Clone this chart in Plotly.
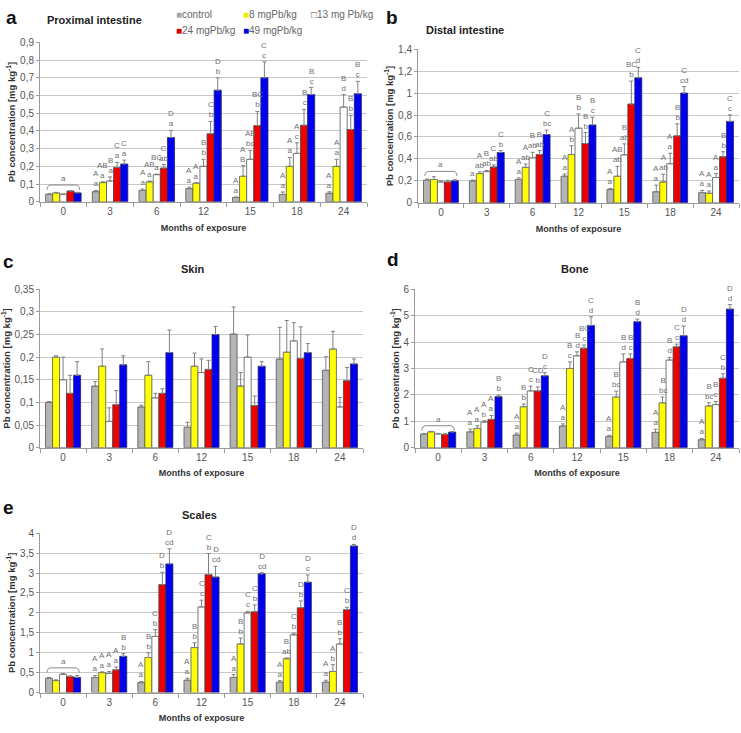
import plotly.graph_objects as go

# ---------------- data ----------------
MONTHS = ["0", "3", "6", "12", "15", "18", "24"]
SERIES = ["control", "8 mgPb/kg", "13 mg Pb/kg", "24 mgPb/kg", "49 mgPb/kg"]

# (a) Proximal intestine
PROX_CONTROL = [0.042, 0.057, 0.064, 0.074, 0.024, 0.041, 0.048]
PROX_8 = [0.050, 0.108, 0.112, 0.105, 0.144, 0.200, 0.200]
PROX_13 = [0.042, 0.117, 0.153, 0.200, 0.240, 0.273, 0.535]
PROX_24 = [0.060, 0.194, 0.190, 0.384, 0.430, 0.432, 0.408]
PROX_49 = [0.050, 0.213, 0.363, 0.630, 0.700, 0.605, 0.610]
PROX_CONTROL_ERR = [0.003, 0.007, 0.008, 0.008, 0.003, 0.014, 0.008]
PROX_8_ERR = [0.003, 0.005, 0.005, 0.002, 0.060, 0.050, 0.040]
PROX_13_ERR = [0.002, 0.023, 0.003, 0.040, 0.050, 0.060, 0.070]
PROX_24_ERR = [0.003, 0.028, 0.020, 0.070, 0.080, 0.090, 0.080]
PROX_49_ERR = [0.003, 0.022, 0.040, 0.070, 0.090, 0.040, 0.070]
PROX_CONTROL_LET = ["", "A<br>a", "A<br>a", "A<br>a", "A<br>a", "A<br>a", "A<br>a"]
PROX_8_LET = ["", "AB<br>a", "AB<br>a", "A<br>a", "A<br>B", "A<br>a", "A<br>a"]
PROX_13_LET = ["", "B<br>a", "BC<br>a", "B<br>b", "AB<br>bc", "A<br>c", "B<br>d"]
PROX_24_LET = ["", "C<br>a", "C<br>ab", "C<br>b", "BC<br>b", "B<br>c", "B<br>b"]
PROX_49_LET = ["", "C<br>a", "D<br>a", "D<br>b", "C<br>c", "B<br>c", "B<br>c"]

# (b) Distal intestine
DIST_CONTROL = [0.206, 0.197, 0.212, 0.242, 0.120, 0.100, 0.092]
DIST_8 = [0.212, 0.266, 0.323, 0.440, 0.242, 0.190, 0.087]
DIST_13 = [0.190, 0.284, 0.410, 0.680, 0.437, 0.356, 0.230]
DIST_24 = [0.190, 0.326, 0.440, 0.540, 0.900, 0.610, 0.420]
DIST_49 = [0.200, 0.458, 0.622, 0.710, 1.140, 1.000, 0.742]
DIST_CONTROL_ERR = [0.010, 0.010, 0.015, 0.020, 0.010, 0.060, 0.020]
DIST_8_ERR = [0.025, 0.015, 0.030, 0.080, 0.090, 0.070, 0.020]
DIST_13_ERR = [0.010, 0.010, 0.050, 0.130, 0.100, 0.095, 0.035]
DIST_24_ERR = [0.015, 0.018, 0.035, 0.100, 0.210, 0.110, 0.045]
DIST_49_ERR = [0.010, 0.018, 0.040, 0.070, 0.095, 0.060, 0.060]
DIST_CONTROL_LET = ["", "a", "A<br>a", "A<br>a", "A<br>a", "A<br>a", "A<br>a"]
DIST_8_LET = ["", "A<br>ab", "A<br>ab", "A<br>b", "AB<br>ab", "A<br>ab", "A<br>a"]
DIST_13_LET = ["", "B<br>ab", "B<br>ab", "B<br>b", "B<br>ab", "A<br>a", "A<br>a"]
DIST_24_LET = ["", "C<br>ab", "B<br>ab", "B<br>b", "BC<br>b", "B<br>b", "B<br>b"]
DIST_49_LET = ["", "C<br>b", "C<br>bc", "B<br>c", "C<br>d", "C<br>cd", "C<br>c"]

# (c) Skin
SKIN_CONTROL = [0.100, 0.136, 0.090, 0.045, 0.251, 0.196, 0.171]
SKIN_8 = [0.200, 0.180, 0.160, 0.180, 0.136, 0.211, 0.218]
SKIN_13 = [0.150, 0.058, 0.110, 0.166, 0.200, 0.236, 0.090]
SKIN_24 = [0.120, 0.095, 0.120, 0.173, 0.093, 0.197, 0.148]
SKIN_49 = [0.160, 0.183, 0.210, 0.250, 0.180, 0.210, 0.185]
SKIN_CONTROL_ERR = [0.002, 0.010, 0.004, 0.011, 0.060, 0.070, 0.030]
SKIN_8_ERR = [0.003, 0.038, 0.030, 0.029, 0.030, 0.070, 0.039]
SKIN_13_ERR = [0.050, 0.030, 0.010, 0.030, 0.049, 0.040, 0.021]
SKIN_24_ERR = [0.040, 0.031, 0.010, 0.020, 0.021, 0.070, 0.029]
SKIN_49_ERR = [0.030, 0.020, 0.050, 0.018, 0.010, 0.020, 0.011]

# (d) Bone
BONE_CONTROL = [0.52, 0.60, 0.48, 0.82, 0.42, 0.58, 0.30]
BONE_8 = [0.60, 0.73, 1.55, 3.00, 1.92, 1.70, 1.58]
BONE_13 = [0.52, 0.97, 2.15, 3.48, 3.25, 3.32, 1.63]
BONE_24 = [0.50, 1.07, 2.15, 3.77, 3.38, 3.82, 2.63]
BONE_49 = [0.59, 1.93, 2.72, 4.63, 4.77, 4.24, 5.25]
BONE_CONTROL_ERR = [0.02, 0.10, 0.07, 0.08, 0.05, 0.12, 0.05]
BONE_8_ERR = [0.02, 0.10, 0.10, 0.25, 0.22, 0.22, 0.12]
BONE_13_ERR = [0.02, 0.05, 0.18, 0.15, 0.30, 0.10, 0.12]
BONE_24_ERR = [0.04, 0.15, 0.15, 0.12, 0.17, 0.10, 0.17]
BONE_49_ERR = [0.02, 0.05, 0.12, 0.33, 0.10, 0.37, 0.17]
BONE_CONTROL_LET = ["", "A<br>a", "A<br>a", "A<br>a", "A<br>a", "A<br>a", "A<br>a"]
BONE_8_LET = ["", "A<br>a", "B<br>b", "B<br>c", "B<br>bc", "B<br>bc", "B<br>bc"]
BONE_13_LET = ["", "A<br>b", "C<br>c", "B<br>d", "B<br>d", "B<br>d", "B<br>c"]
BONE_24_LET = ["", "A<br>a", "CD<br>b", "BC<br>c", "B<br>c", "C<br>c", "C<br>b"]
BONE_49_LET = ["", "B<br>b", "D<br>c", "C<br>d", "B<br>d", "D<br>d", "D<br>d"]

# (e) Scales
SCAL_CONTROL = [0.36, 0.38, 0.25, 0.31, 0.38, 0.26, 0.26]
SCAL_8 = [0.30, 0.50, 0.88, 1.13, 1.22, 0.85, 0.53]
SCAL_13 = [0.46, 0.48, 1.41, 2.15, 2.00, 1.45, 1.22]
SCAL_24 = [0.40, 0.57, 2.71, 2.96, 2.03, 2.13, 2.08]
SCAL_49 = [0.38, 0.91, 3.23, 2.90, 2.98, 2.77, 3.68]
SCAL_CONTROL_ERR = [0.02, 0.05, 0.03, 0.05, 0.07, 0.04, 0.05]
SCAL_8_ERR = [0.02, 0.02, 0.12, 0.12, 0.15, 0.02, 0.17]
SCAL_13_ERR = [0.02, 0.05, 0.17, 0.17, 0.04, 0.04, 0.13]
SCAL_24_ERR = [0.02, 0.07, 0.31, 0.53, 0.17, 0.17, 0.06]
SCAL_49_ERR = [0.05, 0.07, 0.38, 0.27, 0.03, 0.18, 0.04]
SCAL_CONTROL_LET = ["", "A<br>a", "A<br>a", "A<br>a", "A<br>a", "A<br>a", "A<br>a"]
SCAL_8_LET = ["", "A<br>a", "B<br>b", "B<br>b", "B<br>b", "B<br>ab", "A<br>b"]
SCAL_13_LET = ["", "A<br>a", "C<br>b", "C<br>c", "C<br>c", "C<br>b", "B<br>b"]
SCAL_24_LET = ["", "A<br>a", "D<br>b", "C<br>b", "C<br>b", "D<br>b", "C<br>b"]
SCAL_49_LET = ["", "B<br>b", "D<br>cd", "D<br>cd", "D<br>cd", "D<br>c", "D<br>d"]

# ---------------- style / layout ----------------
W, H = 741, 733
FONT = "Liberation Sans, Arial, sans-serif"
COLORS = ["#b4b4b4", "#ffff00", "#ffffff", "#ee0000", "#0000ee"]
OUTLINES = ["#555555", "#555555", "#555555", "#444444", "#222266"]
BARGAP = 0.24
NS = len(SERIES)
GRID = "#c8c8c8"
AXC = "#9a9a9a"
TXT = "#555555"
LETC = "#707070"


def fx(p):
    return p / W


def fy(p):
    return 1 - p / H


panels = [
    dict(letter="a", title="Proximal intestine",
         means=[PROX_CONTROL, PROX_8, PROX_13, PROX_24, PROX_49],
         errs=[PROX_CONTROL_ERR, PROX_8_ERR, PROX_13_ERR, PROX_24_ERR, PROX_49_ERR],
         lets=[PROX_CONTROL_LET, PROX_8_LET, PROX_13_LET, PROX_24_LET, PROX_49_LET],
         ymax=0.9, dtick=0.1, dx=(40, 367), dy=(37, 199),
         letpos=(11, 12), titpos=(94, 14)),
    dict(letter="b", title="Distal intestine",
         means=[DIST_CONTROL, DIST_8, DIST_13, DIST_24, DIST_49],
         errs=[DIST_CONTROL_ERR, DIST_8_ERR, DIST_13_ERR, DIST_24_ERR, DIST_49_ERR],
         lets=[DIST_CONTROL_LET, DIST_8_LET, DIST_13_LET, DIST_24_LET, DIST_49_LET],
         ymax=1.4, dtick=0.2, dx=(418, 739), dy=(44, 200),
         letpos=(392, 12), titpos=(465, 24)),
    dict(letter="c", title="Skin",
         means=[SKIN_CONTROL, SKIN_8, SKIN_13, SKIN_24, SKIN_49],
         errs=[SKIN_CONTROL_ERR, SKIN_8_ERR, SKIN_13_ERR, SKIN_24_ERR, SKIN_49_ERR],
         lets=None,
         ymax=0.35, dtick=0.05, dx=(40, 363), dy=(288, 449),
         letpos=(8, 260), titpos=(193, 267)),
    dict(letter="d", title="Bone",
         means=[BONE_CONTROL, BONE_8, BONE_13, BONE_24, BONE_49],
         errs=[BONE_CONTROL_ERR, BONE_8_ERR, BONE_13_ERR, BONE_24_ERR, BONE_49_ERR],
         lets=[BONE_CONTROL_LET, BONE_8_LET, BONE_13_LET, BONE_24_LET, BONE_49_LET],
         ymax=6, dtick=1, dx=(415, 739), dy=(288, 449),
         letpos=(393, 258), titpos=(575, 267)),
    dict(letter="e", title="Scales",
         means=[SCAL_CONTROL, SCAL_8, SCAL_13, SCAL_24, SCAL_49],
         errs=[SCAL_CONTROL_ERR, SCAL_8_ERR, SCAL_13_ERR, SCAL_24_ERR, SCAL_49_ERR],
         lets=[SCAL_CONTROL_LET, SCAL_8_LET, SCAL_13_LET, SCAL_24_LET, SCAL_49_LET],
         ymax=4, dtick=0.5, dx=(40, 363), dy=(536, 698),
         letpos=(8, 510), titpos=(199, 517)),
]

fig = go.Figure()
annotations = []
shapes = []
layout_axes = {}
xpos = list(range(len(MONTHS)))
bw = (1 - BARGAP) / NS


def bar_center(k, i):
    return k - (1 - BARGAP) / 2 + bw * (i + 0.5)


for p, pan in enumerate(panels):
    n = "" if p == 0 else str(p + 1)
    xa, ya = "x" + n, "y" + n
    for i in range(NS):
        fig.add_trace(go.Bar(
            x=xpos, y=pan["means"][i], name=SERIES[i], xaxis=xa, yaxis=ya,
            marker=dict(color=COLORS[i], line=dict(color=OUTLINES[i], width=0.8)),
            error_y=dict(type="data", array=pan["errs"][i], arrayminus=[0] * len(MONTHS),
                         symmetric=False, color="#808080", thickness=1, width=2),
            showlegend=False, legendgroup=SERIES[i],
        ))
        if pan["lets"]:
            for k in xpos:
                t = pan["lets"][i][k]
                if t:
                    annotations.append(dict(
                        x=bar_center(k, i), y=pan["means"][i][k] + pan["errs"][i][k],
                        xref=xa, yref=ya, text=t, showarrow=False,
                        yanchor="bottom", xanchor="center", yshift=0,
                        font=dict(family=FONT, size=8, color=LETC)))
    # bracket over month 0 group
    if pan["lets"]:
        top0 = max(pan["means"][i][0] + pan["errs"][i][0] for i in range(NS))
        r = pan["ymax"]
        x0 = bar_center(0, 0) - bw * 0.3
        x1 = bar_center(0, NS - 1) + bw * 0.3
        yb = top0 + 0.005 * r
        yt = top0 + 0.035 * r
        d = bw * 0.6
        path = (f"M {x0},{yb} Q {x0},{yt} {x0 + d},{yt} L {x1 - d},{yt} "
                f"Q {x1},{yt} {x1},{yb}")
        shapes.append(dict(type="path", path=path, xref=xa, yref=ya,
                           line=dict(color="#888888", width=1)))
        annotations.append(dict(x=0, y=yt, xref=xa, yref=ya, text="a", showarrow=False,
                                yanchor="bottom", font=dict(family=FONT, size=8, color=LETC)))

    layout_axes["xaxis" + n] = dict(
        domain=[fx(pan["dx"][0]), fx(pan["dx"][1])], anchor=ya,
        range=[-0.5, len(MONTHS) - 0.5], tickmode="array", tickvals=xpos, ticktext=MONTHS,
        ticks="", showline=True, linecolor=AXC, linewidth=1, showgrid=False, zeroline=False,
        minor=dict(tickmode="array", tickvals=[k - 0.5 for k in range(len(MONTHS) + 1)],
                   ticks="outside", ticklen=4, tickcolor=AXC, showgrid=False),
        tickfont=dict(family=FONT, size=10, color=TXT),
        title=dict(text="<b>Months of exposure</b>", standoff=8,
                   font=dict(family=FONT, size=9, color="#333333")),
    )
    layout_axes["yaxis" + n] = dict(
        domain=[fy(pan["dy"][1]), fy(pan["dy"][0])], anchor=xa,
        range=[0, pan["ymax"]], dtick=pan["dtick"], tick0=0,
        showline=True, linecolor=AXC, linewidth=1, ticks="outside", ticklen=3, tickcolor=AXC,
        showgrid=True, gridcolor=GRID, gridwidth=1, zeroline=False,
        tickfont=dict(family=FONT, size=10, color=TXT),
        title=dict(text="<b>Pb concentration [mg kg<sup>-1</sup>]</b>", standoff=2,
                   font=dict(family=FONT, size=9.5, color="#333333")),
    )
    annotations.append(dict(x=fx(pan["letpos"][0]), y=fy(pan["letpos"][1]), xref="paper",
                            yref="paper", text="<b>" + pan["letter"] + "</b>", showarrow=False,
                            xanchor="center", yanchor="middle",
                            font=dict(family=FONT, size=19, color="#111111")))
    annotations.append(dict(x=fx(pan["titpos"][0]), y=fy(pan["titpos"][1]), xref="paper",
                            yref="paper", text="<b>" + pan["title"] + "</b>", showarrow=False,
                            xanchor="center", yanchor="middle",
                            font=dict(family=FONT, size=11, color="#222222")))

# manual legend (top of panel a)
LEG_POS = [(174, 9), (241, 9), (309, 9), (174, 25), (241, 25)]
LEG_SYM = ["■", "■", "□", "■", "■"]
LEG_SYMC = ["#a8a8a8", "#eeee00", "#555555", "#dd0000", "#0000dd"]
for i in range(NS):
    annotations.append(dict(
        x=fx(LEG_POS[i][0]), y=fy(LEG_POS[i][1]), xref="paper", yref="paper",
        xanchor="left", yanchor="middle", showarrow=False,
        text=f'<span style="color:{LEG_SYMC[i]}">{LEG_SYM[i]}</span>{SERIES[i]}',
        font=dict(family=FONT, size=10, color="#666666")))

fig.update_layout(
    width=W, height=H, margin=dict(l=0, r=0, t=0, b=0),
    paper_bgcolor="white", plot_bgcolor="white",
    barmode="group", bargap=BARGAP, bargroupgap=0,
    separators=",.", showlegend=False,
    annotations=annotations, shapes=shapes,
    font=dict(family=FONT),
    **layout_axes,
)

fig.write_html("out.html", config={"displayModeBar": False},
               post_script="document.body.style.margin='0';document.body.style.overflow='hidden';")
